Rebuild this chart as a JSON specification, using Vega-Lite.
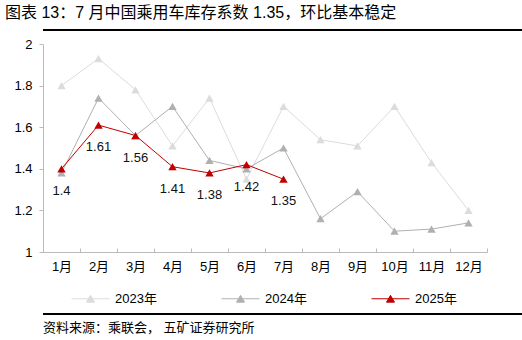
{
  "$schema": "https://vega.github.io/schema/vega-lite/v6.json",
  "background": "white",
  "padding": {"left": 5, "top": 5, "right": 0, "bottom": 0},
  "title": {"text": "图表 13：7 月中国乘用车库存系数 1.35，环比基本稳定", "anchor": "start", "fontSize": 16, "fontWeight": "normal", "color": "#000", "offset": 8},
  "align": "none",
  "spacing": 3,
  "config": {"font": "Liberation Sans, Noto Sans CJK SC", "view": {"stroke": null}},
  "vconcat": [
    {
      "width": 512, "height": 6,
      "data": {"values": [{"start": 0, "end": 1}]},
      "mark": {"type": "rect", "opacity": 1, "fill": {"gradient": "linear", "x1": 0, "y1": 0, "x2": 0, "y2": 1, "stops": [{"offset": 0, "color": "#000000"}, {"offset": 0.25, "color": "#000000"}, {"offset": 0.26, "color": "#ffffff"}, {"offset": 1, "color": "#ffffff"}]}},
      "encoding": {
        "x": {"field": "start", "type": "quantitative", "scale": {"domain": [0, 1], "nice": false}, "axis": null},
        "x2": {"field": "end"},
        "y": {"field": "start", "type": "quantitative", "scale": {"domain": [0, 1], "nice": false}, "axis": null},
        "y2": {"field": "end"}
      }
    },
    {
      "width": 444, "height": 208,
      "data": {"values": [
        {"month": "1月", "year": "2023年", "value": 1.80},
        {"month": "2月", "year": "2023年", "value": 1.93},
        {"month": "3月", "year": "2023年", "value": 1.78},
        {"month": "4月", "year": "2023年", "value": 1.51},
        {"month": "5月", "year": "2023年", "value": 1.74},
        {"month": "6月", "year": "2023年", "value": 1.35},
        {"month": "7月", "year": "2023年", "value": 1.70},
        {"month": "8月", "year": "2023年", "value": 1.54},
        {"month": "9月", "year": "2023年", "value": 1.51},
        {"month": "10月", "year": "2023年", "value": 1.70},
        {"month": "11月", "year": "2023年", "value": 1.43},
        {"month": "12月", "year": "2023年", "value": 1.20},
        {"month": "1月", "year": "2024年", "value": 1.38},
        {"month": "2月", "year": "2024年", "value": 1.74},
        {"month": "3月", "year": "2024年", "value": 1.56},
        {"month": "4月", "year": "2024年", "value": 1.70},
        {"month": "5月", "year": "2024年", "value": 1.44},
        {"month": "6月", "year": "2024年", "value": 1.40},
        {"month": "7月", "year": "2024年", "value": 1.50},
        {"month": "8月", "year": "2024年", "value": 1.16},
        {"month": "9月", "year": "2024年", "value": 1.29},
        {"month": "10月", "year": "2024年", "value": 1.10},
        {"month": "11月", "year": "2024年", "value": 1.11},
        {"month": "12月", "year": "2024年", "value": 1.14},
        {"month": "1月", "year": "2025年", "value": 1.40},
        {"month": "2月", "year": "2025年", "value": 1.61},
        {"month": "3月", "year": "2025年", "value": 1.56},
        {"month": "4月", "year": "2025年", "value": 1.41},
        {"month": "5月", "year": "2025年", "value": 1.38},
        {"month": "6月", "year": "2025年", "value": 1.42},
        {"month": "7月", "year": "2025年", "value": 1.35}
      ]},
      "encoding": {
        "x": {
          "field": "month", "type": "ordinal",
          "sort": ["1月","2月","3月","4月","5月","6月","7月","8月","9月","10月","11月","12月"],
          "scale": {"type": "band", "paddingInner": 0, "paddingOuter": 0},
          "bandPosition": 0.5,
          "axis": {"title": null, "tickBand": "extent", "tickSize": -4, "tickColor": "#bbbbbb", "domainColor": "#bbbbbb", "labelPadding": 12, "labelFontSize": 13, "labelColor": "#000", "labelAngle": 0, "grid": false, "minExtent": 58}
        },
        "y": {
          "field": "value", "type": "quantitative",
          "scale": {"domain": [1, 2], "nice": false, "zero": false},
          "axis": {"title": null, "values": [1, 1.2, 1.4, 1.6, 1.8, 2], "format": "~g", "tickSize": 4, "tickColor": "#bbbbbb", "domainColor": "#bbbbbb", "labelPadding": 7, "labelFontSize": 13, "labelColor": "#000", "minExtent": 38, "grid": false}
        },
        "color": {
          "field": "year", "type": "nominal",
          "scale": {"domain": ["2023年", "2024年", "2025年"], "range": ["#dcdcdc", "#b0b0b0", "#c00000"]}
        }
      },
      "layer": [
        {
          "mark": {"type": "line", "strokeWidth": 1},
          "encoding": {
            "color": {
              "field": "year", "type": "nominal",
              "legend": {
                "orient": "none", "legendX": 28, "legendY": 250, "direction": "horizontal", "title": null,
                "symbolType": "M-1,0L1,0M-0.21,0.18L0.21,0.18L0,-0.18Z",
                "symbolSize": 1444, "symbolStrokeWidth": 1,
                "labelFontSize": 13, "labelColor": "#000", "labelOffset": 5, "columnPadding": 62, "padding": 0,
                "encode": {"symbols": {"update": {"fill": {"scale": "color", "field": "value"}, "stroke": {"scale": "color", "field": "value"}}}}
              }
            }
          }
        },
        {
          "mark": {"type": "point", "shape": "triangle-up", "filled": true, "size": 70, "opacity": 1},
          "encoding": {"color": {"field": "year", "type": "nominal", "legend": null}}
        },
        {
          "transform": [{"filter": "datum.year === '2025年'"}],
          "mark": {"type": "text", "dy": 22, "fontSize": 13},
          "encoding": {
            "text": {"field": "value", "type": "quantitative", "format": "~g"},
            "color": {"value": "#111"}
          }
        }
      ]
    },
    {
      "width": 511, "height": 6,
      "title": {"text": "资料来源：乘联会， 五矿证券研究所", "orient": "bottom", "anchor": "start", "fontSize": 13, "fontWeight": "normal", "color": "#000", "offset": 3},
      "data": {"values": [{"start": 0, "end": 1}]},
      "mark": {"type": "rect", "opacity": 1, "fill": {"gradient": "linear", "x1": 0, "y1": 0, "x2": 0, "y2": 1, "stops": [{"offset": 0, "color": "#000000"}, {"offset": 0.25, "color": "#000000"}, {"offset": 0.26, "color": "#ffffff"}, {"offset": 1, "color": "#ffffff"}]}},
      "encoding": {
        "x": {"field": "start", "type": "quantitative", "scale": {"domain": [0, 1], "nice": false}, "axis": null},
        "x2": {"field": "end"},
        "y": {"field": "start", "type": "quantitative", "scale": {"domain": [0, 1], "nice": false}, "axis": null},
        "y2": {"field": "end"}
      }
    }
  ]
}
